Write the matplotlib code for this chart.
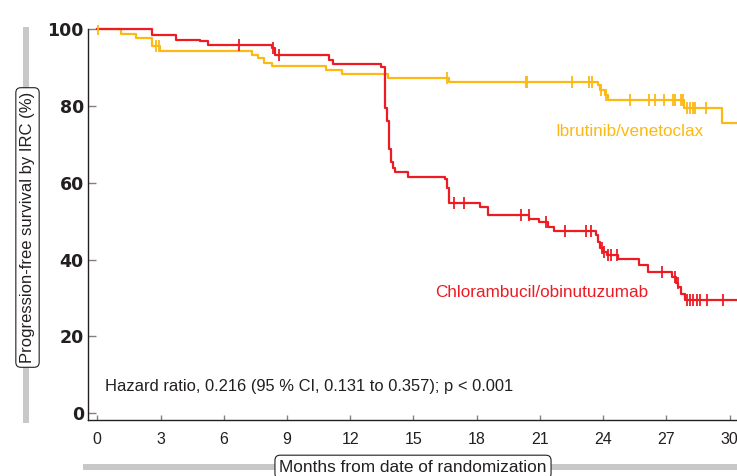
"""
Kaplan-Meier PFS — ibrutinib/venetoclax vs chlorambucil/obinutuzumab
"""

import numpy as np
import matplotlib.pyplot as plt
from matplotlib.lines import Line2D

plt.rcParams['font.family'] = ['Liberation Sans', 'DejaVu Sans']

# ── 데이터 ──────────────────────────────────────────────────────────────
ibr_times = [0, 1.14, 1.85, 2.6, 2.96, 7.33, 7.63, 7.9, 8.31, 10.87, 11.63, 13.79,
             16.68, 23.74, 23.83, 24.1, 24.25, 27.85, 29.62]
ibr_surv = [100, 98.8, 97.8, 95.6, 94.2, 93.2, 92.4, 91.3, 90.3, 89.3, 88.4, 87.3,
            86.2, 85.5, 84.2, 82.9, 81.6, 79.4, 75.5]
ibr_censor = [0.05, 2.77, 2.95, 16.59, 20.32, 20.41, 22.51, 23.31, 23.47, 23.9, 24.14,
              25.29, 26.19, 26.46, 26.9, 27.3, 27.41, 27.7, 27.8, 28.0, 28.14, 28.25,
              28.37, 28.88]

clb_times = [0, 2.6, 3.74, 4.85, 5.25, 8.3, 8.45, 10.98, 11.19, 13.48, 13.63, 13.75,
             13.83, 13.92, 14.03, 14.14, 14.74, 16.48, 16.59, 16.67, 18.17, 18.53,
             20.5, 20.95, 21.37, 21.69, 23.68, 23.75, 23.85, 24.0, 24.17, 24.69,
             25.69, 26.11, 27.27, 27.45, 27.55, 27.7, 27.88]
clb_surv = [100, 98.6, 97.3, 96.9, 96.0, 95.1, 93.2, 92.1, 90.9, 90.2, 79.4, 76.2,
            68.7, 65.5, 63.8, 62.7, 61.4, 60.9, 58.6, 54.6, 53.8, 51.6,
            50.6, 49.7, 48.6, 47.5, 46.4, 44.6, 42.9, 42.0, 41.2, 40.1,
            38.6, 36.8, 35.4, 34.0, 32.8, 31.0, 29.4]
clb_censor = [6.72, 8.34, 8.63, 16.91, 17.39, 20.08, 20.46, 21.27, 22.2, 23.19, 23.4,
              23.93, 24.06, 24.25, 24.38, 24.64, 26.8, 27.43, 27.54, 27.96, 28.12,
              28.27, 28.43, 28.6, 28.91, 29.7]

x_ticks = [0, 3, 6, 9, 12, 15, 18, 21, 24, 27, 30]
y_ticks = [0, 20, 40, 60, 80, 100]

YELLOW = '#FDB913'
RED = '#ED1C24'
DARK = '#231F20'
GRAY = '#C8C8C8'
X_END = 30.35


def step_value(times, surv, t):
    idx = np.searchsorted(times, t, side='right') - 1
    return np.asarray(surv)[idx]


# ── 그림 ──────────────────────────────────────────────────────────────────────
fig = plt.figure(figsize=(7.37, 4.76), dpi=100)
ax = fig.add_axes([88 / 737, 56 / 476, 1 - 88 / 737, 395 / 476])

for times, surv, cens, color in [(ibr_times, ibr_surv, ibr_censor, YELLOW),
                                 (clb_times, clb_surv, clb_censor, RED)]:
    xs = list(times) + [X_END]
    ys = list(surv) + [surv[-1]]
    ax.step(xs, ys, where='post', color=color, lw=1.6, zorder=3)
    ax.plot(cens, step_value(times, surv, cens), ls='none', marker='|',
            ms=8, mew=1.3, color=color, zorder=4)

ax.set_xlim(-0.44, X_END)
ax.set_ylim(-1.8, 101.1)
ax.set_xticks(x_ticks)
ax.set_yticks(y_ticks)
ax.set_xticklabels([str(v) for v in x_ticks], fontsize=11.5, color=DARK)
ax.set_yticklabels([str(v) for v in y_ticks], fontsize=12.5, fontweight='bold',
                   color=DARK, family=['DejaVu Sans'])
ax.tick_params(axis='y', direction='in', length=6, width=1, color='#808080', pad=3)
ax.tick_params(axis='x', direction='in', length=3.5, width=1, color='#808080', pad=9)

for s in ['top', 'right']:
    ax.spines[s].set_visible(False)
ax.spines['left'].set_bounds(-1.8, 100)
ax.spines['left'].set_color(DARK)
ax.spines['bottom'].set_color(DARK)
ax.spines['left'].set_linewidth(1)
ax.spines['bottom'].set_linewidth(1)

# ── 주석 ──────────────────────────────────────────────────────────────────────
ax.text(0.37, 6.85, 'Hazard ratio, 0.216 (95 % CI, 0.131 to 0.357); p < 0.001',
        fontsize=11.9, color=DARK, va='center', ha='left')
ax.text(21.72, 73.3, 'Ibrutinib/venetoclax', fontsize=12.3, color=YELLOW,
        va='center', ha='left')
ax.text(16.04, 31.45, 'Chlorambucil/obinutuzumab', fontsize=12.3, color=RED,
        va='center', ha='left')

# ── 축 제목 (회색 바 + 박스) ──────────────────────────────────────────────────
fig.add_artist(Line2D([26 / 737, 26 / 737], [(476 - 420) / 476, (476 - 30) / 476],
                      transform=fig.transFigure, color=GRAY, lw=4.3, zorder=0))
fig.add_artist(Line2D([86 / 737, 1.0], [(476 - 467) / 476, (476 - 467) / 476],
                      transform=fig.transFigure, color=GRAY, lw=4.3, zorder=0))

box = dict(boxstyle='round,pad=0.25,rounding_size=0.3', fc='white', ec=DARK, lw=0.8)
fig.text(27.5 / 737, (476 - 227.5) / 476, 'Progression-free survival by IRC (%)',
         rotation=90, fontsize=12, color=DARK, ha='center', va='center', bbox=box)
fig.text(413 / 737, (476 - 467) / 476, 'Months from date of randomization',
         fontsize=12.4, color=DARK, ha='center', va='center', bbox=box)

plt.savefig('out.png', dpi=100)
plt.close()
